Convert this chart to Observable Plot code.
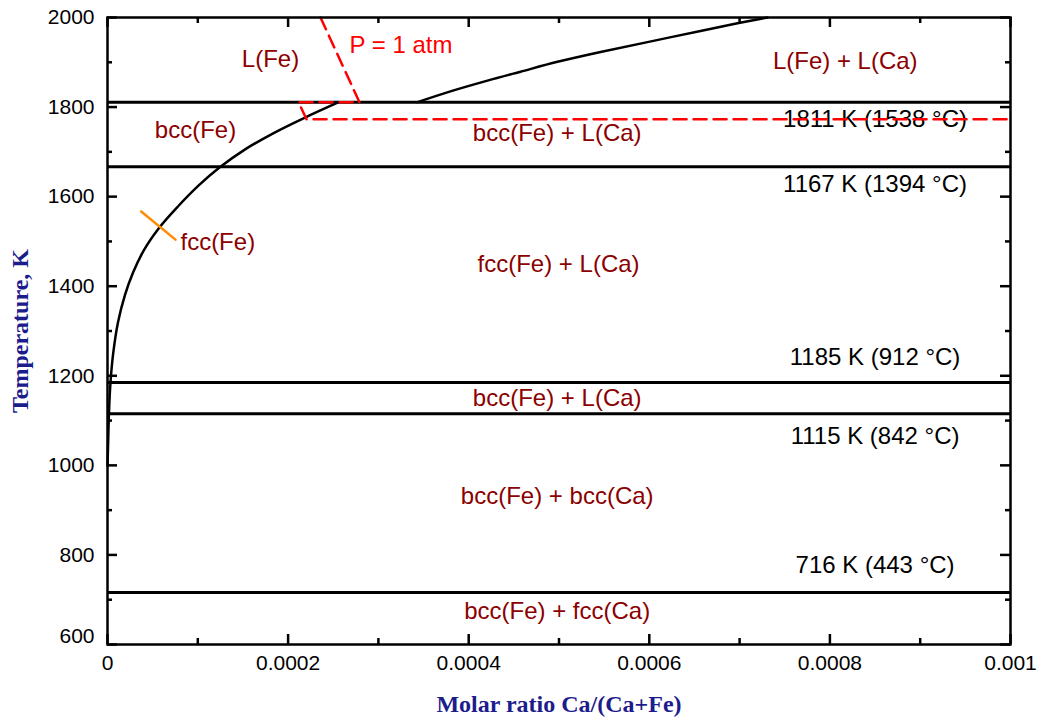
<!DOCTYPE html>
<html><head><meta charset="utf-8">
<script src="https://cdn.jsdelivr.net/npm/d3@7"></script>
<script src="https://cdn.jsdelivr.net/npm/@observablehq/plot@0.6"></script>
<style>body{margin:0;background:#fff}</style>
</head><body><div id="chart"></div>
<script>
// Tick values and labels
const xMajorTicks = [0, 0.0002, 0.0004, 0.0006, 0.0008, 0.001];
const xTickLabels = ["0", "0.0002", "0.0004", "0.0006", "0.0008", "0.001"];
const xMinorTicks = [0.0001, 0.0003, 0.0005, 0.0007, 0.0009];
const yMajorTicks = [600, 800, 1000, 1200, 1400, 1600, 1800, 2000];
const yMinorTicks = [700, 900, 1100, 1300, 1500, 1700, 1900];

// Invariant (isotherm) temperatures, K
const isotherms = [1811, 1667, 1185, 1115, 716];

// Fe-rich boundary (Ca solubility in Fe)
const solvusX = [0, 0.0000007, 0.0000016, 0.0000033, 0.0000063, 0.0000117, 0.0000193, 0.0000282, 0.0000402, 0.0000575, 0.000078, 0.000101, 0.000124, 0.000152, 0.000184, 0.000217, 0.000256];
const solvusT = [1000, 1050, 1115, 1185, 1250, 1320, 1380, 1430, 1480, 1531, 1578, 1625, 1665, 1705, 1742, 1775, 1811];

// Liquidus of L(Fe) into miscibility gap
const liquidusX = [0.0003433, 0.0003798, 0.0004208, 0.0004574, 0.0004983, 0.000546, 0.000598, 0.0006567, 0.0006977, 0.0007309];
const liquidusT = [1811, 1835, 1859, 1879, 1901, 1923, 1945, 1970, 1987, 2000];

// P = 1 atm boundary (dashed red)
const atmX = [0.0002359, 0.000279, 0.0002115, 0.0002204, 0.001];
const atmT = [2000, 1811, 1811, 1773, 1773];

// fcc(Fe) marker (orange)
const fccMarkX = [0.0000373, 0.0000753];
const fccMarkT = [1567, 1504];

// Phase region labels
const regionLabels = ["L(Fe)", "bcc(Fe)", "L(Fe) + L(Ca)", "bcc(Fe) + L(Ca)", "fcc(Fe) + L(Ca)", "bcc(Fe) + L(Ca)", "bcc(Fe) + bcc(Ca)", "bcc(Fe) + fcc(Ca)"];
const regionX = [0.0001805, 0.0000975, 0.000817, 0.000498, 0.0004995, 0.000498, 0.000498, 0.000498];
const regionT = [1906, 1748, 1902, 1741, 1449, 1149, 931, 675];

const fccLabel = ["fcc(Fe)"];
const fccLabelX = [0.0000808];
const fccLabelT = [1498];

const atmLabel = ["P = 1 atm"];
const atmLabelX = [0.000268];
const atmLabelT = [1937];

// Isotherm labels
const isoLabels = ["1811 K (1538 °C)", "1167 K (1394 °C)", "1185 K (912 °C)", "1115 K (842 °C)", "716 K (443 °C)"];
const isoLabelX = [0.00085, 0.00085, 0.00085, 0.00085, 0.00085];
const isoLabelT = [1772, 1628, 1242, 1064, 777];

const solvus = solvusX.map((x, i) => ({x, T: solvusT[i]}));
const liquidus = liquidusX.map((x, i) => ({x, T: liquidusT[i]}));
const atm = atmX.map((x, i) => ({x, T: atmT[i]}));
const fccMark = fccMarkX.map((x, i) => ({x, T: fccMarkT[i]}));

const FW = 1039 - 107 - 29; // frame width
const FH = 717 - 17 - 73;   // frame height
const darkRed = "#8B0000";
const navy = "#1c1c8c";
const serif = "'Liberation Serif', 'Times New Roman', serif";
const tickColor = "black";

const chart = Plot.plot({
  width: 1039,
  height: 717,
  marginLeft: 107,
  marginRight: 29,
  marginTop: 17,
  marginBottom: 73,
  x: {domain: [0, 0.001]},
  y: {domain: [600, 2000]},
  style: {fontFamily: "'Liberation Sans', Arial, sans-serif", background: "white", color: "black"},
  marks: [
    Plot.ruleY(isotherms, {y: d => d, stroke: "black", strokeWidth: 3}),
    Plot.line(solvus, {x: "x", y: "T", curve: "catmull-rom", stroke: "black", strokeWidth: 2.5}),
    Plot.line(liquidus, {x: "x", y: "T", curve: "catmull-rom", stroke: "black", strokeWidth: 2.5}),
    Plot.line(fccMark, {x: "x", y: "T", stroke: "#ff8c00", strokeWidth: 2.5}),
    Plot.text(regionLabels, {x: (d, i) => regionX[i], y: (d, i) => regionT[i], text: d => d, fill: darkRed, fontSize: 24}),
    Plot.text(fccLabel, {x: (d, i) => fccLabelX[i], y: (d, i) => fccLabelT[i], text: d => d, fill: darkRed, fontSize: 24, textAnchor: "start"}),
    Plot.text(isoLabels, {x: (d, i) => isoLabelX[i], y: (d, i) => isoLabelT[i], text: d => d, fill: "black", fontSize: 24}),
    Plot.text(atmLabel, {x: (d, i) => atmLabelX[i], y: (d, i) => atmLabelT[i], text: d => d, fill: "red", fontSize: 24, textAnchor: "start"}),
    Plot.line(atm, {x: "x", y: "T", stroke: "red", strokeWidth: 2.5, strokeDasharray: "13,7"}),
    Plot.frame({stroke: "black", strokeWidth: 2.5}),
    // inward ticks on all four sides
    Plot.tickY(yMajorTicks, {y: d => d, insetRight: FW - 10, stroke: tickColor, strokeWidth: 2.5}),
    Plot.tickY(yMinorTicks, {y: d => d, insetRight: FW - 5, stroke: tickColor, strokeWidth: 2.5}),
    Plot.tickY(yMajorTicks, {y: d => d, insetLeft: FW - 10, stroke: tickColor, strokeWidth: 2.5}),
    Plot.tickY(yMinorTicks, {y: d => d, insetLeft: FW - 5, stroke: tickColor, strokeWidth: 2.5}),
    Plot.tickX(xMajorTicks, {x: d => d, insetTop: FH - 10, stroke: tickColor, strokeWidth: 2.5}),
    Plot.tickX(xMinorTicks, {x: d => d, insetTop: FH - 6, stroke: tickColor, strokeWidth: 2.5}),
    Plot.tickX(xMajorTicks, {x: d => d, insetBottom: FH - 10, stroke: tickColor, strokeWidth: 2.5}),
    Plot.tickX(xMinorTicks, {x: d => d, insetBottom: FH - 6, stroke: tickColor, strokeWidth: 2.5}),
    // tick labels
    Plot.axisX(xMajorTicks, {anchor: "bottom", tickSize: 0, tickPadding: 11, fontSize: 21, label: null,
      tickFormat: d => xTickLabels[xMajorTicks.indexOf(d)]}),
    Plot.axisY(yMajorTicks.filter(d => d !== 600), {anchor: "left", tickSize: 0, tickPadding: 13, fontSize: 21, label: null, tickFormat: "d"}),
    Plot.axisY([600], {anchor: "left", tickSize: 0, tickPadding: 13, fontSize: 21, label: null, tickFormat: "d", dy: -8}),
    // axis titles
    Plot.text(["Molar ratio Ca/(Ca+Fe)"], {frameAnchor: "bottom", dy: 60, lineAnchor: "middle", textAnchor: "middle", text: d => d, fontFamily: serif, fontWeight: "bold", fontSize: 24, fill: navy}),
    Plot.text(["Temperature, K"], {frameAnchor: "left", dx: -87, rotate: -90, lineAnchor: "middle", textAnchor: "middle", text: d => d, fontFamily: serif, fontWeight: "bold", fontSize: 24, fill: navy})
  ]
});
document.getElementById("chart").appendChild(chart);
</script>
</body></html>
